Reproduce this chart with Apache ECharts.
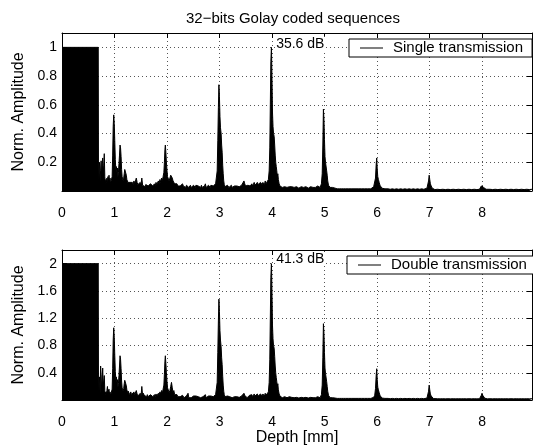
<!DOCTYPE html>
<html>
<head>
<meta charset="utf-8">
<script src="https://cdn.jsdelivr.net/npm/echarts/dist/echarts.min.js"></script>
<style>html,body{margin:0;padding:0;background:#fff}#c{width:533px;height:447px}</style>
</head>
<body>
<div id="c"></div>
<script>
const xTicks = [0,1,2,3,4,5,6,7,8];
const seriesNames = ['Single transmission','Double transmission'];
const annotations = ['35.6 dB','41.3 dB'];

const singleTx = [
[0,1],[0.69,1],[0.695,0.02],[0.705,0.12],[0.715,0.2],[0.725,0.07],[0.735,0.14],[0.745,0.21],[0.755,0.1],[0.765,0.19],[0.775,0.23],[0.785,0.12],[0.795,0.18],[0.805,0.26],[0.815,0.1],[0.825,0.05],[0.835,0.08],[0.845,0.06],[0.855,0.09],[0.865,0.05],[0.875,0.1],[0.885,0.07],[0.895,0.11],[0.905,0.06],[0.915,0.09],[0.925,0.05],[0.935,0.07],[0.945,0.06],[0.955,0.1],[0.965,0.25],[0.975,0.45],[0.985,0.53],[0.995,0.47],[1.005,0.35],[1.015,0.22],[1.025,0.15],[1.035,0.17],[1.045,0.13],[1.055,0.16],[1.065,0.1],[1.075,0.13],[1.085,0.19],[1.095,0.25],[1.105,0.32],[1.115,0.3],[1.125,0.24],[1.135,0.15],[1.145,0.1],[1.155,0.11],[1.165,0.07],[1.175,0.09],[1.185,0.12],[1.195,0.15],[1.205,0.155],[1.215,0.14],[1.225,0.11],[1.235,0.08],[1.245,0.09],[1.255,0.06],[1.265,0.07],[1.28,0.05],[1.295,0.06],[1.31,0.07],[1.325,0.05],[1.34,0.06],[1.355,0.045],[1.37,0.07],[1.385,0.05],[1.4,0.06],[1.415,0.09],[1.43,0.06],[1.445,0.045],[1.46,0.05],[1.475,0.035],[1.49,0.06],[1.505,0.045],[1.52,0.09],[1.535,0.04],[1.55,0.05],[1.565,0.04],[1.58,0.03],[1.595,0.045],[1.61,0.035],[1.625,0.05],[1.64,0.035],[1.655,0.03],[1.67,0.045],[1.685,0.05],[1.7,0.04],[1.715,0.06],[1.73,0.035],[1.745,0.045],[1.76,0.05],[1.775,0.035],[1.79,0.06],[1.805,0.045],[1.82,0.05],[1.835,0.07],[1.85,0.05],[1.865,0.08],[1.88,0.06],[1.895,0.09],[1.91,0.07],[1.925,0.1],[1.94,0.13],[1.95,0.2],[1.96,0.29],[1.968,0.32],[1.978,0.27],[1.988,0.2],[2.0,0.14],[2.01,0.1],[2.025,0.09],[2.04,0.07],[2.055,0.08],[2.07,0.11],[2.085,0.12],[2.1,0.09],[2.115,0.07],[2.13,0.08],[2.145,0.05],[2.16,0.06],[2.175,0.045],[2.19,0.05],[2.205,0.035],[2.22,0.04],[2.235,0.025],[2.25,0.035],[2.265,0.025],[2.28,0.04],[2.295,0.05],[2.31,0.035],[2.325,0.025],[2.34,0.035],[2.355,0.025],[2.37,0.04],[2.385,0.03],[2.4,0.05],[2.415,0.025],[2.43,0.035],[2.445,0.04],[2.46,0.025],[2.475,0.035],[2.49,0.025],[2.505,0.04],[2.52,0.03],[2.535,0.025],[2.55,0.04],[2.565,0.03],[2.58,0.05],[2.595,0.035],[2.61,0.025],[2.625,0.035],[2.64,0.025],[2.655,0.04],[2.67,0.025],[2.685,0.035],[2.7,0.025],[2.715,0.035],[2.73,0.05],[2.745,0.025],[2.76,0.035],[2.775,0.025],[2.79,0.04],[2.805,0.03],[2.82,0.025],[2.835,0.04],[2.85,0.035],[2.865,0.05],[2.88,0.035],[2.895,0.025],[2.91,0.04],[2.925,0.05],[2.94,0.06],[2.955,0.14],[2.967,0.35],[2.978,0.58],[2.988,0.74],[2.998,0.66],[3.008,0.52],[3.018,0.44],[3.03,0.4],[3.04,0.32],[3.05,0.27],[3.06,0.18],[3.07,0.12],[3.08,0.07],[3.09,0.045],[3.105,0.03],[3.12,0.035],[3.135,0.025],[3.15,0.04],[3.165,0.03],[3.18,0.025],[3.195,0.035],[3.21,0.025],[3.225,0.04],[3.24,0.025],[3.255,0.035],[3.27,0.025],[3.285,0.035],[3.3,0.04],[3.315,0.025],[3.33,0.035],[3.345,0.025],[3.36,0.04],[3.375,0.03],[3.39,0.025],[3.405,0.035],[3.42,0.04],[3.435,0.03],[3.45,0.05],[3.465,0.07],[3.48,0.05],[3.495,0.035],[3.51,0.04],[3.525,0.025],[3.54,0.04],[3.555,0.03],[3.57,0.05],[3.585,0.035],[3.6,0.04],[3.615,0.05],[3.63,0.035],[3.645,0.04],[3.66,0.06],[3.675,0.04],[3.69,0.05],[3.705,0.04],[3.72,0.06],[3.735,0.045],[3.75,0.05],[3.765,0.04],[3.78,0.06],[3.795,0.05],[3.81,0.045],[3.825,0.06],[3.84,0.05],[3.855,0.045],[3.87,0.07],[3.885,0.05],[3.9,0.06],[3.915,0.05],[3.93,0.08],[3.945,0.14],[3.957,0.3],[3.967,0.6],[3.977,0.9],[3.988,1.0],[3.998,0.8],[4.008,0.55],[4.018,0.45],[4.028,0.4],[4.04,0.38],[4.05,0.32],[4.06,0.25],[4.07,0.2],[4.08,0.17],[4.09,0.14],[4.1,0.1],[4.11,0.12],[4.12,0.08],[4.135,0.05],[4.15,0.035],[4.165,0.025],[4.18,0.03],[4.195,0.025],[4.21,0.03],[4.225,0.02],[4.24,0.03],[4.255,0.02],[4.27,0.04],[4.285,0.025],[4.3,0.03],[4.315,0.02],[4.33,0.03],[4.345,0.025],[4.36,0.04],[4.375,0.03],[4.39,0.02],[4.405,0.03],[4.42,0.025],[4.435,0.03],[4.45,0.02],[4.465,0.03],[4.48,0.025],[4.495,0.03],[4.51,0.02],[4.525,0.03],[4.54,0.025],[4.555,0.03],[4.57,0.02],[4.585,0.03],[4.6,0.025],[4.615,0.03],[4.63,0.02],[4.645,0.03],[4.66,0.025],[4.675,0.03],[4.69,0.02],[4.705,0.03],[4.72,0.025],[4.735,0.03],[4.75,0.02],[4.765,0.03],[4.78,0.025],[4.795,0.03],[4.81,0.035],[4.825,0.025],[4.84,0.03],[4.855,0.025],[4.87,0.035],[4.885,0.025],[4.9,0.035],[4.915,0.025],[4.93,0.035],[4.94,0.05],[4.955,0.12],[4.967,0.32],[4.978,0.57],[4.988,0.5],[4.998,0.36],[5.008,0.24],[5.018,0.2],[5.03,0.19],[5.04,0.14],[5.05,0.11],[5.06,0.07],[5.075,0.04],[5.09,0.03],[5.105,0.025],[5.12,0.03],[5.135,0.02],[5.15,0.025],[5.165,0.02],[5.18,0.015],[5.2,0.02],[5.22,0.02],[5.24,0.015],[5.26,0.02],[5.28,0.015],[5.3,0.02],[5.32,0.015],[5.34,0.02],[5.36,0.015],[5.38,0.02],[5.4,0.015],[5.43,0.02],[5.46,0.015],[5.49,0.02],[5.52,0.015],[5.55,0.02],[5.58,0.015],[5.61,0.02],[5.64,0.015],[5.67,0.02],[5.7,0.015],[5.73,0.02],[5.76,0.015],[5.79,0.02],[5.82,0.015],[5.85,0.02],[5.88,0.015],[5.91,0.02],[5.935,0.03],[5.955,0.04],[5.97,0.09],[5.982,0.18],[5.993,0.23],[6.003,0.15],[6.013,0.1],[6.025,0.08],[6.04,0.06],[6.055,0.04],[6.07,0.03],[6.09,0.02],[6.12,0.02],[6.15,0.015],[6.18,0.012],[6.21,0.015],[6.25,0.012],[6.29,0.015],[6.33,0.012],[6.37,0.015],[6.41,0.012],[6.45,0.015],[6.49,0.012],[6.53,0.015],[6.57,0.012],[6.61,0.015],[6.65,0.012],[6.69,0.015],[6.73,0.012],[6.77,0.015],[6.81,0.012],[6.85,0.015],[6.89,0.012],[6.925,0.015],[6.95,0.02],[6.965,0.03],[6.98,0.07],[6.992,0.11],[7.003,0.08],[7.015,0.05],[7.03,0.035],[7.05,0.02],[7.075,0.014],[7.1,0.01],[7.15,0.012],[7.2,0.01],[7.25,0.012],[7.3,0.01],[7.35,0.012],[7.4,0.01],[7.45,0.012],[7.5,0.01],[7.55,0.012],[7.6,0.01],[7.65,0.012],[7.7,0.01],[7.75,0.012],[7.8,0.01],[7.85,0.012],[7.9,0.01],[7.95,0.012],[7.97,0.02],[7.985,0.035],[7.998,0.046],[8.012,0.035],[8.028,0.025],[8.05,0.016],[8.075,0.012],[8.1,0.01],[8.15,0.012],[8.2,0.01],[8.25,0.012],[8.3,0.01],[8.35,0.012],[8.4,0.01],[8.45,0.012],[8.5,0.01],[8.55,0.012],[8.6,0.01],[8.65,0.012],[8.7,0.01],[8.75,0.012],[8.8,0.01],[8.85,0.012],[8.9,0.01],[8.95,0.012]
];

const doubleTx = [
[0,2],[0.69,2],[0.695,0.04],[0.705,0.2],[0.715,0.34],[0.725,0.1],[0.735,0.5],[0.745,0.38],[0.755,0.15],[0.765,0.3],[0.775,0.47],[0.785,0.2],[0.795,0.28],[0.805,0.36],[0.815,0.14],[0.825,0.08],[0.835,0.12],[0.845,0.09],[0.855,0.14],[0.865,0.2],[0.875,0.12],[0.885,0.1],[0.895,0.16],[0.905,0.08],[0.915,0.12],[0.925,0.07],[0.935,0.1],[0.945,0.09],[0.955,0.16],[0.965,0.46],[0.975,0.88],[0.985,1.06],[0.995,0.92],[1.005,0.66],[1.015,0.42],[1.025,0.3],[1.035,0.34],[1.045,0.26],[1.055,0.3],[1.065,0.19],[1.075,0.24],[1.085,0.36],[1.095,0.5],[1.105,0.65],[1.115,0.6],[1.125,0.46],[1.135,0.28],[1.145,0.18],[1.155,0.2],[1.165,0.13],[1.175,0.17],[1.185,0.24],[1.195,0.29],[1.205,0.31],[1.215,0.27],[1.225,0.21],[1.235,0.15],[1.245,0.17],[1.255,0.1],[1.265,0.13],[1.28,0.08],[1.295,0.1],[1.31,0.12],[1.325,0.08],[1.34,0.1],[1.355,0.07],[1.37,0.12],[1.385,0.08],[1.4,0.1],[1.415,0.14],[1.43,0.09],[1.445,0.06],[1.46,0.08],[1.475,0.05],[1.49,0.1],[1.505,0.06],[1.52,0.2],[1.535,0.07],[1.55,0.1],[1.565,0.07],[1.58,0.045],[1.595,0.07],[1.61,0.05],[1.625,0.08],[1.64,0.05],[1.655,0.04],[1.67,0.06],[1.685,0.08],[1.7,0.06],[1.715,0.09],[1.73,0.05],[1.745,0.06],[1.76,0.08],[1.775,0.05],[1.79,0.09],[1.805,0.06],[1.82,0.08],[1.835,0.1],[1.85,0.07],[1.865,0.12],[1.88,0.09],[1.895,0.14],[1.91,0.1],[1.925,0.16],[1.94,0.22],[1.95,0.38],[1.96,0.57],[1.968,0.65],[1.978,0.54],[1.988,0.4],[2.0,0.27],[2.01,0.18],[2.025,0.16],[2.04,0.11],[2.055,0.14],[2.07,0.2],[2.085,0.26],[2.1,0.18],[2.115,0.11],[2.13,0.14],[2.145,0.08],[2.16,0.1],[2.175,0.06],[2.19,0.08],[2.205,0.05],[2.22,0.06],[2.235,0.035],[2.25,0.05],[2.265,0.035],[2.28,0.06],[2.295,0.07],[2.31,0.05],[2.325,0.035],[2.34,0.05],[2.355,0.035],[2.37,0.06],[2.385,0.04],[2.4,0.1],[2.415,0.035],[2.43,0.05],[2.445,0.06],[2.46,0.035],[2.475,0.05],[2.49,0.035],[2.505,0.06],[2.52,0.04],[2.535,0.035],[2.55,0.06],[2.565,0.04],[2.58,0.08],[2.595,0.05],[2.61,0.035],[2.625,0.05],[2.64,0.035],[2.655,0.06],[2.67,0.035],[2.685,0.05],[2.7,0.035],[2.715,0.05],[2.73,0.08],[2.745,0.035],[2.76,0.05],[2.775,0.035],[2.79,0.06],[2.805,0.04],[2.82,0.035],[2.835,0.06],[2.85,0.05],[2.865,0.08],[2.88,0.05],[2.895,0.035],[2.91,0.06],[2.925,0.08],[2.94,0.1],[2.955,0.26],[2.967,0.7],[2.978,1.16],[2.988,1.48],[2.998,1.3],[3.008,1.02],[3.018,0.88],[3.03,0.78],[3.04,0.62],[3.05,0.52],[3.06,0.35],[3.07,0.22],[3.08,0.13],[3.09,0.08],[3.105,0.05],[3.12,0.05],[3.135,0.035],[3.15,0.06],[3.165,0.04],[3.18,0.035],[3.195,0.05],[3.21,0.035],[3.225,0.06],[3.24,0.035],[3.255,0.05],[3.27,0.035],[3.285,0.05],[3.3,0.06],[3.315,0.035],[3.33,0.05],[3.345,0.035],[3.36,0.06],[3.375,0.04],[3.39,0.035],[3.405,0.05],[3.42,0.06],[3.435,0.04],[3.45,0.08],[3.465,0.1],[3.48,0.07],[3.495,0.05],[3.51,0.06],[3.525,0.035],[3.54,0.06],[3.555,0.04],[3.57,0.07],[3.585,0.05],[3.6,0.06],[3.615,0.08],[3.63,0.05],[3.645,0.06],[3.66,0.09],[3.675,0.06],[3.69,0.08],[3.705,0.06],[3.72,0.09],[3.735,0.06],[3.75,0.08],[3.765,0.06],[3.78,0.09],[3.795,0.07],[3.81,0.06],[3.825,0.09],[3.84,0.07],[3.855,0.06],[3.87,0.1],[3.885,0.07],[3.9,0.09],[3.915,0.07],[3.93,0.12],[3.945,0.26],[3.957,0.6],[3.967,1.2],[3.977,1.8],[3.988,2.0],[3.998,1.6],[4.008,1.1],[4.018,0.9],[4.028,0.8],[4.04,0.76],[4.05,0.64],[4.06,0.5],[4.07,0.4],[4.08,0.33],[4.09,0.27],[4.1,0.2],[4.11,0.24],[4.12,0.15],[4.135,0.09],[4.15,0.06],[4.165,0.04],[4.18,0.05],[4.195,0.035],[4.21,0.04],[4.225,0.03],[4.24,0.05],[4.255,0.03],[4.27,0.06],[4.285,0.035],[4.3,0.04],[4.315,0.03],[4.33,0.05],[4.345,0.035],[4.36,0.06],[4.375,0.04],[4.39,0.03],[4.405,0.04],[4.42,0.035],[4.435,0.05],[4.45,0.03],[4.465,0.04],[4.48,0.035],[4.495,0.05],[4.51,0.03],[4.525,0.04],[4.54,0.035],[4.555,0.04],[4.57,0.03],[4.585,0.05],[4.6,0.035],[4.615,0.04],[4.63,0.03],[4.645,0.04],[4.66,0.035],[4.675,0.04],[4.69,0.03],[4.705,0.05],[4.72,0.035],[4.735,0.04],[4.75,0.03],[4.765,0.04],[4.78,0.035],[4.795,0.04],[4.81,0.05],[4.825,0.035],[4.84,0.04],[4.855,0.035],[4.87,0.05],[4.885,0.04],[4.9,0.05],[4.915,0.035],[4.93,0.05],[4.94,0.08],[4.955,0.22],[4.967,0.62],[4.978,1.12],[4.988,0.98],[4.998,0.7],[5.008,0.47],[5.018,0.39],[5.03,0.37],[5.04,0.27],[5.05,0.2],[5.06,0.13],[5.075,0.07],[5.09,0.05],[5.105,0.035],[5.12,0.045],[5.135,0.03],[5.15,0.035],[5.165,0.03],[5.18,0.025],[5.2,0.03],[5.22,0.03],[5.24,0.025],[5.26,0.03],[5.28,0.025],[5.3,0.03],[5.32,0.025],[5.34,0.03],[5.36,0.025],[5.38,0.03],[5.4,0.025],[5.43,0.03],[5.46,0.025],[5.49,0.03],[5.52,0.025],[5.55,0.03],[5.58,0.025],[5.61,0.03],[5.64,0.025],[5.67,0.03],[5.7,0.025],[5.73,0.03],[5.76,0.025],[5.79,0.03],[5.82,0.025],[5.85,0.03],[5.88,0.025],[5.91,0.03],[5.935,0.04],[5.955,0.07],[5.97,0.17],[5.982,0.35],[5.993,0.46],[6.003,0.3],[6.013,0.19],[6.025,0.15],[6.04,0.11],[6.055,0.07],[6.07,0.045],[6.09,0.03],[6.12,0.03],[6.15,0.025],[6.18,0.02],[6.21,0.025],[6.25,0.02],[6.29,0.025],[6.33,0.02],[6.37,0.025],[6.41,0.02],[6.45,0.025],[6.49,0.02],[6.53,0.025],[6.57,0.02],[6.61,0.025],[6.65,0.02],[6.69,0.025],[6.73,0.02],[6.77,0.025],[6.81,0.02],[6.85,0.025],[6.89,0.02],[6.925,0.025],[6.95,0.03],[6.965,0.05],[6.98,0.13],[6.992,0.22],[7.003,0.15],[7.015,0.09],[7.03,0.06],[7.05,0.035],[7.075,0.022],[7.1,0.018],[7.15,0.02],[7.2,0.018],[7.25,0.02],[7.3,0.018],[7.35,0.02],[7.4,0.018],[7.45,0.02],[7.5,0.018],[7.55,0.02],[7.6,0.018],[7.65,0.02],[7.7,0.018],[7.75,0.02],[7.8,0.018],[7.85,0.02],[7.9,0.018],[7.95,0.02],[7.97,0.035],[7.985,0.07],[7.998,0.1],[8.012,0.07],[8.028,0.045],[8.05,0.028],[8.075,0.02],[8.1,0.018],[8.15,0.02],[8.2,0.018],[8.25,0.02],[8.3,0.018],[8.35,0.02],[8.4,0.018],[8.45,0.02],[8.5,0.018],[8.55,0.02],[8.6,0.018],[8.65,0.02],[8.7,0.018],[8.75,0.02],[8.8,0.018],[8.85,0.02],[8.9,0.018],[8.95,0.02]
];

const FONT = '"Liberation Sans", Arial, Helvetica, sans-serif';
const chart = echarts.init(document.getElementById('c'), null, {renderer: 'canvas'});

function xLabel(v) { return xTicks.indexOf(Math.round(v * 100) / 100) >= 0 ? String(Math.round(v)) : ''; }
function yLabelTop(v) { return (v < 0.05 || v > 1.05) ? '' : String(+v.toFixed(1)); }
function yLabelBot(v) { return (v < 0.05 || v > 2.1) ? '' : String(+v.toFixed(1)); }

const XMAX = 8.95;
const grids = [
  {left: 62, top: 33, width: 470, height: 158},
  {left: 62, top: 250, width: 470, height: 157}
];
const dotted = {show: true, lineStyle: {color: '#555', width: 1, type: [1, 3]}};
const axLine = {show: true, onZero: false, lineStyle: {color: '#000', width: 1}};
const tick = {show: true, inside: true, length: 5, lineStyle: {color: '#000', width: 1}};

function mkX(gi, pos, labels, name) {
  return {
    gridIndex: gi, type: 'value', min: 0, max: XMAX, interval: 1, position: pos,
    axisLine: axLine, axisTick: tick,
    axisLabel: labels ? {show: true, formatter: xLabel, margin: 15, fontSize: 14, color: '#000', fontFamily: FONT, showMaxLabel: false} : {show: false},
    splitLine: labels ? dotted : {show: false},
    name: name || '', nameLocation: 'middle', nameGap: 20,
    nameTextStyle: {fontSize: 16, color: '#000', fontFamily: FONT}
  };
}
function mkY(gi, pos, labels, max, interval, fmt) {
  return {
    gridIndex: gi, type: 'value', min: 0, max: max, interval: interval, position: pos,
    axisLine: axLine, axisTick: tick,
    axisLabel: labels ? {show: true, formatter: fmt, margin: 5, fontSize: 14, color: '#000', fontFamily: FONT} : {show: false},
    splitLine: labels ? dotted : {show: false},
    name: labels ? 'Norm. Amplitude' : '', nameLocation: 'middle', nameGap: 29,
    nameTextStyle: {fontSize: 16, color: '#000', fontFamily: FONT}
  };
}

function mkSeries(name, data, xi, yi, annot, coord) {
  return {
    type: 'line', name: name, data: data, xAxisIndex: xi, yAxisIndex: yi,
    symbol: 'none', showSymbol: false, animation: false,
    lineStyle: {color: '#000', width: 1}, itemStyle: {color: '#000'},
    areaStyle: {color: '#000', opacity: 1},
    markPoint: {
      symbol: 'rect', symbolSize: 1, silent: true, animation: false,
      itemStyle: {color: 'rgba(0,0,0,0)'},
      label: {show: true, position: 'right', distance: 1, formatter: annot, color: '#000',
        fontSize: 14, fontFamily: FONT, backgroundColor: '#fff', padding: [0, 1]},
      data: [{coord: coord}]
    }
  };
}

function mkLegend(name, left, top) {
  return {
    data: [name], left: left, top: top, orient: 'horizontal',
    icon: 'rect', itemWidth: 23, itemHeight: 1,
    padding: [1, 9, 1, 11], borderColor: '#000', borderWidth: 1, borderRadius: 0,
    backgroundColor: '#fff', selectedMode: false,
    textStyle: {fontSize: 15, color: '#000', fontFamily: FONT, padding: [0, 0, 0, 5], lineHeight: 16}
  };
}

chart.setOption({
  animation: false,
  backgroundColor: '#fff',
  title: {text: '32\u2212bits Golay coded sequences', left: 181, top: 6,
    textStyle: {fontSize: 15, fontWeight: 'normal', color: '#000', fontFamily: FONT}},
  grid: grids,
  legend: [mkLegend(seriesNames[0], 349, 39), mkLegend(seriesNames[1], 347, 256)],
  xAxis: [mkX(0, 'bottom', true), mkX(0, 'top', false), mkX(1, 'bottom', true, 'Depth [mm]'), mkX(1, 'top', false)],
  yAxis: [mkY(0, 'left', true, 1.1, 0.2, yLabelTop), mkY(0, 'right', false, 1.1, 0.2), mkY(1, 'left', true, 2.2, 0.4, yLabelBot), mkY(1, 'right', false, 2.2, 0.4)],
  series: [
    mkSeries(seriesNames[0], singleTx, 0, 0, annotations[0], [4.03, 1.025]),
    mkSeries(seriesNames[1], doubleTx, 2, 2, annotations[1], [4.03, 2.07])
  ]
});
</script>
</body>
</html>
